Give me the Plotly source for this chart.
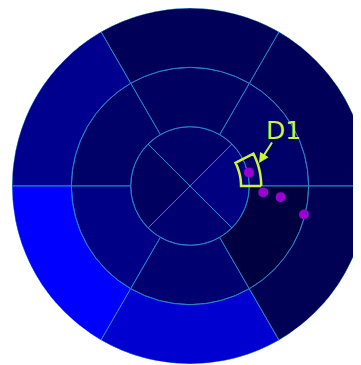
import numpy as np
import plotly.graph_objects as go

# Segment intensities (0 = black, 1 = pure blue)
inner_theta = [0, 90, 180, 270]
inner_vals = [0.50, 0.41, 0.38, 0.44]
mid_theta = [30, 90, 150, 210, 270, 330]
mid_vals = [0.41, 0.38, 0.41, 0.53, 0.44, 0.25]
outer_theta = [30, 90, 150, 210, 270, 330]
outer_vals = [0.35, 0.345, 0.56, 1.0, 0.82, 0.33]

# Sample points
pts_r = [1.02, 1.24, 1.54, 1.98]
pts_theta = [13, -5, -7, -14]

# ROI "D1"
roi_r_in, roi_r_out = 0.86, 1.2
roi_t0, roi_t1 = 0, 27

cscale = [[0, "#000000"], [1, "#0000ff"]]
edge = dict(color="#2a86c8", width=1)
lime = "#ccf53a"

W, H, B = 364, 365, 9
ph = H - B

fig = go.Figure()
for theta, vals, base, width in [
    (inner_theta, inner_vals, 0, 90),
    (mid_theta, mid_vals, 1, 60),
    (outer_theta, outer_vals, 2, 60),
]:
    fig.add_trace(go.Barpolar(
        r=[1] * len(theta), base=[base] * len(theta), theta=theta,
        width=[width] * len(theta),
        marker=dict(color=vals, colorscale=cscale, cmin=0, cmax=1, line=edge),
        showlegend=False, hoverinfo="skip",
    ))

arc = np.linspace(roi_t0, roi_t1, 12)
roi_theta = list(arc) + list(arc[::-1]) + [arc[0]]
roi_r = [roi_r_out] * len(arc) + [roi_r_in] * len(arc) + [roi_r_out]
fig.add_trace(go.Scatterpolar(
    r=roi_r, theta=roi_theta, mode="lines",
    line=dict(color=lime, width=2.5), showlegend=False,
))
fig.add_trace(go.Scatterpolar(
    r=pts_r, theta=pts_theta, mode="markers",
    marker=dict(color="#9a00d0", size=10), showlegend=False,
))

# arrow only
fig.add_annotation(
    x=251 / W, y=1 - 155 / ph, xref="paper", yref="paper",
    ax=14, ay=-22, text="", showarrow=True,
    arrowcolor=lime, arrowwidth=2, arrowhead=2, arrowsize=1,
)
# label
fig.add_annotation(
    x=275 / W, y=1 - 122 / ph, xref="paper", yref="paper",
    xanchor="center", yanchor="middle",
    text="D1", showarrow=False,
    font=dict(size=25, color=lime, family="DejaVu Sans"),
)

fig.update_layout(
    width=W, height=H,
    margin=dict(l=0, r=0, t=0, b=B),
    paper_bgcolor="white",
    polar=dict(
        bgcolor="white",
        domain=dict(x=[0, 1], y=[0, 1]),
        radialaxis=dict(range=[0, 3], visible=False, showgrid=False),
        angularaxis=dict(visible=False, showgrid=False, rotation=0,
                         direction="counterclockwise"),
        barmode="overlay",
    ),
)

fig.write_html("out.html")
